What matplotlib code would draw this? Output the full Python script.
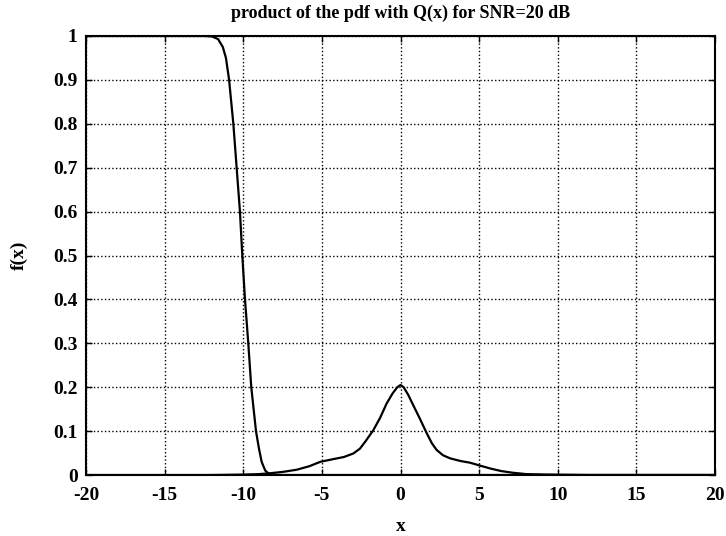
import matplotlib
matplotlib.use("Agg")
import matplotlib.pyplot as plt

# Q(x)-like curve
x_q = [-20, -12.5, -12.0, -11.6, -11.3, -11.1, -10.9, -10.63, -10.42, -10.21, -10.06,
       -9.89, -9.68, -9.49, -9.19, -9.0, -8.83, -8.6, -8.34, -8.0, 20]
y_q = [1, 1, 0.999, 0.993, 0.975, 0.95, 0.9, 0.8, 0.7, 0.6, 0.5,
       0.4, 0.3, 0.2, 0.1, 0.06, 0.03, 0.01, 0.002, 0, 0]

# product of pdf with Q(x)
x_p = [-20, -12, -10, -9, -8.3, -7.5, -6.6, -5.8, -5.1, -4.3, -3.6, -3.0, -2.58, -2.2,
       -1.73, -1.3, -0.88, -0.5, -0.2, 0, 0.2, 0.5, 0.81, 1.25, 1.67, 2.0, 2.3, 2.7, 3.15, 3.8,
       4.42, 5.0, 5.69, 6.4, 7.17, 8.0, 9.3, 12, 20]
y_p = [0, 0, 0.001, 0.002, 0.004, 0.007, 0.012, 0.02, 0.03, 0.036, 0.041, 0.049, 0.06, 0.078,
       0.102, 0.13, 0.163, 0.186, 0.2, 0.205, 0.2, 0.182, 0.159, 0.127, 0.095, 0.072, 0.057, 0.045, 0.038, 0.032,
       0.028, 0.022, 0.015, 0.009, 0.005, 0.002, 0.001, 0, 0]

x_ticks = [-20, -15, -10, -5, 0, 5, 10, 15, 20]
x_ticklabels = ["-20", "-15", "-10", "-5", "0", "5", "10", "15", "20"]
y_ticks = [0, 0.1, 0.2, 0.3, 0.4, 0.5, 0.6, 0.7, 0.8, 0.9, 1]
y_ticklabels = ["0", "0.1", "0.2", "0.3", "0.4", "0.5", "0.6", "0.7", "0.8", "0.9", "1"]

plt.rcParams['font.family'] = ['Liberation Serif', 'DejaVu Serif']

fig = plt.figure(figsize=(7.26, 5.36), dpi=100)
ax = fig.add_axes([86/726, 61/536, 629/726, 439/536])

ax.plot(x_q, y_q, color='black', lw=1.6)
ax.plot(x_p, y_p, color='black', lw=1.6)

ax.set_xlim(-20, 20)
ax.set_ylim(0, 1)
ax.set_xticks(x_ticks)
ax.set_xticklabels(x_ticklabels, fontweight='bold', fontsize=14)
ax.set_yticks(y_ticks)
ax.set_yticklabels(y_ticklabels, fontweight='bold', fontsize=14)
ax.tick_params(direction='in', top=True, right=True, length=4, width=1)
ax.tick_params(axis='x', pad=9)
ax.tick_params(axis='y', pad=6)
ax.grid(True, color='black', linestyle=':', linewidth=1)
for s in ax.spines.values():
    s.set_linewidth(1.5)

ax.set_title("product of the pdf with Q(x) for SNR=20 dB", fontsize=13, fontweight='bold', pad=13)
ax.set_xlabel("x", fontsize=14, fontweight='bold', labelpad=10)
ax.set_ylabel("f(x)", fontsize=14, fontweight='bold', labelpad=18)

fig.savefig("out.png", dpi=100)
